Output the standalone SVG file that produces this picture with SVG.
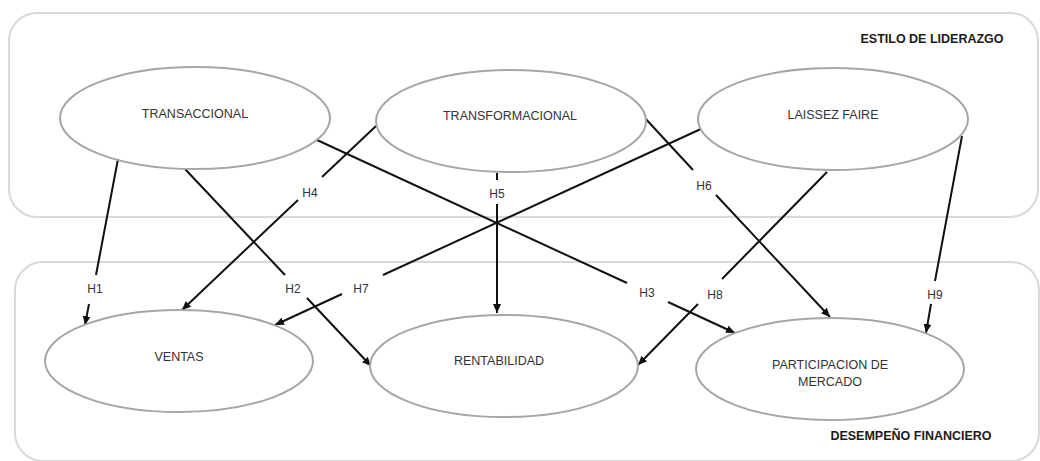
<svg xmlns="http://www.w3.org/2000/svg" width="1040" height="461" viewBox="0 0 1040 461">
<style>
.box{fill:none;stroke:#d9d9d9;stroke-width:2}
.node{fill:#fff;stroke:#a6a6a6;stroke-width:2}
.nt{font-family:"Liberation Sans",Arial,sans-serif;font-size:12.5px;fill:#333;text-anchor:middle}
.title{font-family:"Liberation Sans",Arial,sans-serif;font-size:12.5px;font-weight:bold;fill:#1a1a1a;text-anchor:middle}
.edge{fill:none;stroke:#111;stroke-width:2}
.lbl{font-family:"Liberation Sans",Arial,sans-serif;font-size:12px;fill:#333;text-anchor:middle}
</style>
<defs>
<marker id="arr" markerUnits="userSpaceOnUse" markerWidth="10" markerHeight="8" refX="9" refY="4" orient="auto">
<path d="M0,0 L9,4 L0,8 z" fill="#111"/>
</marker>
</defs>
<rect fill="#fff" width="1040" height="461"/>
<g id="grp-estilo">
<rect class="box" x="9" y="13" width="1029" height="204" rx="28"/>
<text class="title" x="932" y="43">ESTILO DE LIDERAZGO</text>
</g>
<g id="grp-desempeno">
<rect class="box" x="15" y="262" width="1024" height="199" rx="28"/>
<text class="title" x="911" y="440">DESEMPEÑO FINANCIERO</text>
</g>
<g id="connectors">
<path class="edge" d="M118,159 L96,275 M89,304 L85,325" marker-end="url(#arr)"/>
<text class="lbl" x="95" y="293">H1</text>
<path class="edge" d="M185,169 L285,275 M307,298 L371,366" marker-end="url(#arr)"/>
<text class="lbl" x="293" y="293">H2</text>
<path class="edge" d="M317,140 L627,283 M668,302 L735,333" marker-end="url(#arr)"/>
<text class="lbl" x="647" y="297">H3</text>
<path class="edge" d="M376,126 L322,177 M298,200 L182,310" marker-end="url(#arr)"/>
<text class="lbl" x="310" y="197">H4</text>
<path class="edge" d="M497,173 L497,180 M497,204 L497,313" marker-end="url(#arr)"/>
<text class="lbl" x="497" y="198">H5</text>
<path class="edge" d="M644,117 L693,170 M716,195 L830,317" marker-end="url(#arr)"/>
<text class="lbl" x="704" y="190">H6</text>
<path class="edge" d="M703,128 L383,275 M342,294 L275,325" marker-end="url(#arr)"/>
<text class="lbl" x="361" y="293">H7</text>
<path class="edge" d="M827,172 L722,279 M698,304 L638,365" marker-end="url(#arr)"/>
<text class="lbl" x="715" y="299">H8</text>
<path class="edge" d="M962,136 L935,281 M931,304 L926,333" marker-end="url(#arr)"/>
<text class="lbl" x="935" y="299">H9</text>
</g>
<g id="n-transaccional">
<ellipse class="node" cx="195" cy="118" rx="135" ry="51" fill-opacity="0"/>
<text class="nt" x="195" y="118">TRANSACCIONAL</text>
</g>
<g id="n-transformacional">
<ellipse class="node" cx="511" cy="121" rx="135" ry="51"/>
<text class="nt" x="510" y="120">TRANSFORMACIONAL</text>
</g>
<g id="n-laissez">
<ellipse class="node" cx="833" cy="119" rx="135" ry="51"/>
<text class="nt" x="833" y="119">LAISSEZ FAIRE</text>
</g>
<g id="n-ventas">
<ellipse class="node" cx="179" cy="361" rx="134" ry="51"/>
<text class="nt" x="179" y="361">VENTAS</text>
</g>
<g id="n-rentabilidad">
<ellipse class="node" cx="504" cy="366" rx="134" ry="51"/>
<text class="nt" x="499" y="365">RENTABILIDAD</text>
</g>
<g id="n-participacion">
<ellipse class="node" cx="830" cy="369" rx="134" ry="51"/>
<text class="nt" x="830" y="369">PARTICIPACION DE</text>
<text class="nt" x="830" y="386">MERCADO</text>
</g>
</svg>
